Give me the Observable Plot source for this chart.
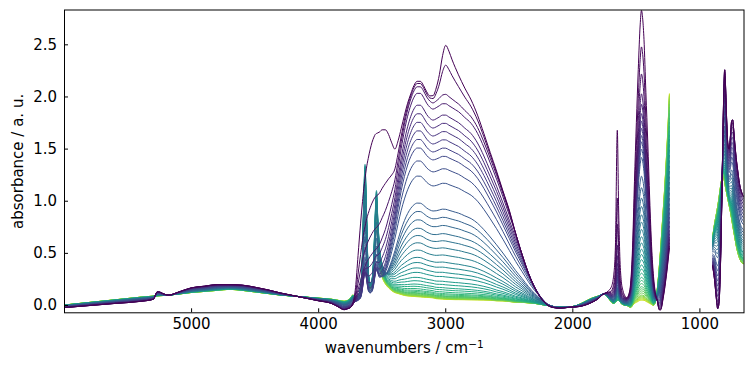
<!DOCTYPE html>
<html>
<head>
<meta charset="utf-8">
<script src="https://cdn.jsdelivr.net/npm/d3@7"></script>
<script src="https://cdn.jsdelivr.net/npm/@observablehq/plot@0.6"></script>
<style>
  html, body { margin: 0; padding: 0; background: #fff; }
  #chart { width: 752px; height: 368px; }
</style>
</head>
<body>
<div id="chart"></div>
<script>
// ---------- data ----------
// wavenumber grid of the main segment with the baseline of the late (green) spectra
const baseline = [[6000,0.005],[5800,0.03],[5600,0.055],[5400,0.08],[5300,0.09],[5270,0.092],[5250,0.094],[5220,0.096],[5180,0.1],[5100,0.11],[5000,0.125],[4900,0.135],[4800,0.145],[4700,0.155],[4600,0.145],[4500,0.13],[4400,0.115],[4300,0.1],[4200,0.09],[4100,0.08],[4000,0.07],[3900,0.06],[3850,0.05],[3800,0.04],[3770,0.05],[3750,0.07],[3730,0.1],[3710,0.07],[3690,0.06],[3670,0.05],[3655,0.05],[3645,0.05],[3635,0.05],[3625,0.05],[3610,0.05],[3595,0.05],[3580,0.05],[3565,0.05],[3555,0.05],[3545,0.05],[3535,0.05],[3520,0.05],[3500,0.05],[3475,0.05],[3450,0.05],[3425,0.05],[3400,0.05],[3375,0.05],[3350,0.05],[3325,0.05],[3300,0.05],[3275,0.05],[3250,0.05],[3225,0.05],[3200,0.05],[3175,0.05],[3150,0.05],[3125,0.05],[3100,0.05],[3075,0.045],[3050,0.045],[3025,0.045],[3000,0.045],[2975,0.045],[2950,0.045],[2925,0.045],[2900,0.045],[2850,0.045],[2800,0.045],[2750,0.045],[2700,0.045],[2650,0.045],[2600,0.04],[2550,0.04],[2500,0.035],[2450,0.03],[2400,0.03],[2350,0.025],[2300,0.02],[2250,0.01],[2200,0],[2150,-0.01],[2100,-0.015],[2050,-0.015],[2000,-0.01],[1950,0.01],[1900,0.04],[1850,0.07],[1800,0.09],[1760,0.11],[1740,0.1],[1720,0.07],[1700,0.04],[1680,0.02],[1665,0.03],[1650,0.05],[1640,0.05],[1630,0.04],[1620,0.02],[1605,0.01],[1590,0],[1575,0],[1560,-0.01],[1545,-0.02],[1530,0],[1515,0.02],[1500,0.03],[1485,0.04],[1470,0.05],[1460,0.05],[1450,0.05],[1440,0.05],[1425,0.04],[1410,0.03],[1395,0.02],[1380,0.01],[1365,0],[1350,0],[1335,0],[1320,0],[1310,0],[1300,0],[1290,0],[1280,0],[1270,0],[1260,0],[1250,0],[1240,0]];

// extra baseline of the early (purple) spectra
const purpleBase = [[6000,-0.025],[5800,-0.03],[5600,-0.035],[5400,-0.04],[5300,-0.03],[5270,0.04],[5250,0.035],[5220,0.015],[5180,0],[5100,0.02],[5000,0.045],[4900,0.05],[4800,0.055],[4700,0.045],[4600,0.05],[4500,0.045],[4400,0.035],[4300,0.02],[4200,0.005],[4100,-0.01],[4000,-0.025],[3900,-0.04],[3850,-0.06],[3800,-0.08],[3770,-0.08],[3750,-0.09],[3730,-0.1],[3710,-0.05],[3690,-0.03],[3670,-0.02],[2400,-0.01],[2350,-0.015],[2300,-0.02],[2250,-0.02],[2200,-0.02],[2150,-0.015],[2100,-0.01],[2050,-0.005],[2000,-0.005],[1950,-0.02],[1900,-0.035],[1850,-0.04],[1800,-0.025],[1760,0],[1740,0.02],[1720,0.04],[1700,0.05],[1680,0.06],[1665,0.05],[1650,0.03],[1640,0.03],[1630,0.03],[1620,0.04],[1605,0.05],[1590,0.06],[1575,0.06],[1560,0.06],[1545,0.04],[1530,0],[1335,-0.03],[1320,-0.15],[1310,-0.2],[1300,-0.22],[1290,-0.2],[1280,-0.18],[1270,-0.15],[1260,-0.12],[1250,-0.08],[1240,-0.05]];

// broad O-H band profile (1 at 3000 cm-1)
const ohBand = [[3710,0],[3690,0],[3670,0.005],[3655,0.008],[3645,0.01],[3635,0.012],[3625,0.015],[3610,0.02],[3595,0.025],[3580,0.03],[3565,0.04],[3555,0.045],[3545,0.05],[3535,0.06],[3520,0.08],[3500,0.12],[3475,0.18],[3450,0.27],[3425,0.38],[3400,0.5],[3375,0.63],[3350,0.75],[3325,0.85],[3300,0.93],[3275,0.99],[3250,1.03],[3225,1.05],[3200,1.05],[3175,1.03],[3150,1.0],[3125,0.98],[3100,0.97],[3075,0.98],[3050,0.99],[3025,1.0],[3000,1.0],[2975,0.99],[2950,0.98],[2925,0.97],[2900,0.96],[2850,0.93],[2800,0.9],[2750,0.85],[2700,0.78],[2650,0.7],[2600,0.62],[2550,0.53],[2500,0.44],[2450,0.35],[2400,0.27],[2350,0.19],[2300,0.12],[2250,0.07],[2200,0.03],[2150,0.01],[2100,0]];
// low-wavenumber flank shared by the strongest spectra
const ohEdge = [[2975,2.46],[2950,2.4],[2925,2.33],[2900,2.25],[2850,2.1],[2800,1.98],[2750,1.88],[2700,1.74],[2650,1.55],[2600,1.33],[2550,1.1],[2500,0.88],[2450,0.66],[2400,0.47],[2350,0.3],[2300,0.17],[2250,0.08],[2200,0.025],[2150,0.005],[2100,0.001]];
// extra C-H peak near 2980 cm-1 of the first spectra
const band2980 = [[3150,0],[3125,0],[3100,0.05],[3075,0.18],[3050,0.42],[3025,0.78],[3000,1.0],[2975,0.92],[2950,0.78],[2925,0.66],[2900,0.55],[2850,0.4],[2800,0.28],[2750,0.18],[2700,0.1],[2650,0.05],[2600,0.02],[2550,0]];
// high-frequency O-H shoulder of the first spectra
const band3550 = [[3770,0],[3750,0],[3730,0.02],[3710,0.1],[3690,0.3],[3670,0.5],[3655,0.62],[3645,0.7],[3635,0.76],[3625,0.82],[3610,0.88],[3595,0.93],[3580,0.97],[3565,0.99],[3555,1.0],[3545,1.0],[3535,0.99],[3520,0.97],[3500,0.93],[3475,0.85],[3450,0.7],[3425,0.5],[3400,0.3],[3375,0.18],[3350,0.1],[3325,0.05],[3300,0.02],[3275,0]];
// sharp free O-H peaks (3635 / 3545 cm-1)
const sharpOH = [[3750,0],[3730,0],[3710,0.01],[3690,0.03],[3670,0.1],[3655,0.35],[3645,0.75],[3635,1.0],[3625,0.7],[3610,0.22],[3595,0.12],[3580,0.15],[3565,0.35],[3555,0.62],[3545,0.8],[3535,0.6],[3520,0.36],[3500,0.24],[3475,0.17],[3450,0.13],[3425,0.1],[3400,0.08],[3375,0.07],[3350,0.06],[3325,0.05],[3300,0.045],[3275,0.042],[3250,0.04],[3225,0.037],[3200,0.035],[3175,0.032],[3150,0.03],[3125,0.028],[3100,0.025],[3075,0.022],[3050,0.02],[3025,0.018],[3000,0.015],[2975,0.014],[2950,0.013],[2925,0.012],[2900,0.012],[2850,0.011],[2800,0.01],[2750,0.009],[2700,0.008],[2650,0.006],[2600,0.005],[2550,0.004],[2500,0.003],[2450,0.001],[2400,0]];
const band1650 = [[1740,0],[1720,0.02],[1700,0.05],[1680,0.12],[1665,0.3],[1650,1.0],[1640,0.55],[1630,0.25],[1620,0.12],[1605,0.05],[1590,0.02],[1575,0.01],[1560,0]];
const band1460 = [[1590,0],[1575,0],[1560,0.02],[1545,0.07],[1530,0.2],[1515,0.42],[1500,0.62],[1485,0.8],[1470,0.95],[1460,1.0],[1450,0.97],[1440,0.9],[1425,0.72],[1410,0.55],[1395,0.36],[1380,0.2],[1365,0.1],[1350,0.04],[1335,0.01],[1320,0]];
const band1250 = [[1380,0],[1365,0],[1350,0.02],[1335,0.08],[1320,0.18],[1310,0.26],[1300,0.35],[1290,0.44],[1280,0.53],[1270,0.63],[1260,0.74],[1250,0.86],[1240,1.0]];

// low-wavenumber segment: first (purple) and last (green) spectrum
const lowFirst = [[900,0.38],[885,0.25],[870,0.06],[860,-0.03],[850,0.02],[840,0.3],[830,0.85],[820,1.55],[812,2.05],[805,2.26],[798,2.1],[790,1.8],[780,1.55],[770,1.5],[760,1.62],[750,1.77],[742,1.78],[735,1.7],[725,1.55],[715,1.42],[700,1.27],[690,1.18],[680,1.12],[670,1.08],[653,1.04]];
const lowLast = [[900,0.65],[885,0.78],[870,0.88],[860,0.95],[850,1.03],[840,1.12],[830,1.2],[820,1.24],[812,1.22],[805,1.18],[798,1.13],[790,1.08],[780,1.02],[770,0.96],[760,0.9],[750,0.83],[742,0.77],[735,0.72],[725,0.65],[715,0.58],[700,0.5],[690,0.46],[680,0.43],[670,0.41],[653,0.4]];

// per-spectrum amplitudes (spectrum 0 = first, darkest)
const ohLevel = [2.0,1.98,1.95,1.89,1.78,1.70,1.62,1.54,1.46,1.38,1.26,1.12,0.87,0.79,0.71,0.63,0.56,0.49,0.42,0.35,0.30,0.25,0.21,0.165,0.135,0.105,0.085,0.065,0.05,0.04,0.03,0.025,0.02,0.015,0.01,0.008,0.006,0.004,0.002,0];
const amp2980 = [0.45,0.28,0.03,0,0,0,0,0,0,0,0,0,0,0,0,0,0,0,0,0,0,0,0,0,0,0,0,0,0,0,0,0,0,0,0,0,0,0,0,0];
const amp3550 = [1.5,0.9,0.6,0.4,0.3,0.2,0.12,0.06,0.03,0,0,0,0,0,0,0,0,0,0,0,0,0,0,0,0,0,0,0,0,0,0,0,0,0,0,0,0,0,0,0];
const ampSharp = [0,0,0,0,0.05,0.1,0.15,0.2,0.25,0.3,0.35,0.4,0.5,0.6,0.7,0.8,0.9,1.0,1.1,1.2,1.28,1.3,1.27,1.25,1.22,1.2,1.18,1.16,1.14,1.12,1.1,1.08,1.06,1.04,1.02,1.0,0.98,0.96,0.94,0.92];
const amp1650 = [1.6,0.95,0.7,0.5,0.4,0.33,0.28,0.25,0.22,0.2,0.18,0.16,0.13,0.11,0.1,0.09,0.08,0.07,0.06,0.05,0.04,0.035,0.03,0.025,0.02,0.015,0.01,0.005,0,0,0,0,0,0,0,0,0,0,0,0];
const amp1460 = [2.78,2.43,2.17,1.98,1.88,1.79,1.72,1.65,1.58,1.52,1.45,1.37,1.19,1.08,0.98,0.90,0.82,0.75,0.68,0.61,0.55,0.49,0.44,0.39,0.34,0.30,0.26,0.22,0.19,0.16,0.13,0.11,0.09,0.07,0.05,0.04,0.03,0.02,0.01,0.0];
const amp1250 = [0.6,0.62,0.65,0.68,0.7,0.73,0.76,0.8,0.84,0.88,0.92,0.96,1.0,1.05,1.1,1.15,1.2,1.25,1.3,1.35,1.4,1.45,1.5,1.55,1.6,1.64,1.68,1.72,1.76,1.8,1.84,1.87,1.9,1.93,1.96,1.98,2.0,2.01,2.02,2.03];
const purpleShare = [1,1,1,0.97,0.93,0.88,0.83,0.78,0.73,0.68,0.63,0.58,0.5,0.46,0.42,0.38,0.34,0.31,0.28,0.25,0.22,0.19,0.17,0.15,0.13,0.11,0.09,0.08,0.07,0.06,0.05,0.04,0.03,0.02,0.01,0,0,0,0,0];

const xTicks = [5000, 4000, 3000, 2000, 1000];
const yTicks = [0, 0.5, 1, 1.5, 2, 2.5];

// ---------- build table ----------
const gridA = baseline.map(d => d[0]);
const gridB = lowFirst.map(d => d[0]);
function lookup(pairs, name, strict = true) {
  const m = new Map(pairs);
  for (const k of m.keys()) if (!gridA.includes(k)) throw new Error(name + " key not in grid: " + k);
  if (strict) {
    const ks = pairs.map(d => d[0]);
    const lo = Math.min(...ks), hi = Math.max(...ks);
    for (const w of gridA) if (w >= lo && w <= hi && !m.has(w)) throw new Error(name + " missing " + w);
  }
  return w => (m.has(w) ? m.get(w) : 0);
}
const fBase = lookup(baseline, "baseline");
const fPurple = lookup(purpleBase, "purpleBase", false);
const fOH = lookup(ohBand, "ohBand");
const fEdgeMap = new Map(ohEdge);
const f2980 = lookup(band2980, "band2980");
const f3550 = lookup(band3550, "band3550");
const fSharp = lookup(sharpOH, "sharpOH");
const f1650 = lookup(band1650, "band1650");
const f1460 = lookup(band1460, "band1460");
const f1250 = lookup(band1250, "band1250");
const lowF = new Map(lowFirst), lowL = new Map(lowLast);

const N = ohLevel.length;
for (const [n, a] of Object.entries({amp2980, amp3550, ampSharp, amp1650, amp1460, amp1250, purpleShare}))
  if (a.length !== N) throw new Error(n + " length " + a.length);

// later spectra first, so the early (purple) ones are drawn on top
const rows = [];
for (let i = N - 1; i >= 0; i--) {
  for (const wn of gridA) {
    let oh = ohLevel[i] * fOH(wn) + amp2980[i] * f2980(wn);
    if (fEdgeMap.has(wn)) oh = Math.min(oh, fEdgeMap.get(wn));
    const a = fBase(wn) + purpleShare[i] * fPurple(wn) + oh + amp3550[i] * f3550(wn)
      + ampSharp[i] * fSharp(wn) + amp1650[i] * f1650(wn) + amp1460[i] * f1460(wn) + amp1250[i] * f1250(wn);
    rows.push({spectrum: i, key: i + "A", wn, a});
  }
  for (const wn of gridB) {
    const a = purpleShare[i] * lowF.get(wn) + (1 - purpleShare[i]) * lowL.get(wn);
    rows.push({spectrum: i, key: i + "B", wn, a});
  }
}

const xLabel = "wavenumbers / cm⁻¹";
const chart = Plot.plot({
  width: 752,
  height: 368,
  marginLeft: 64,
  marginRight: 8.5,
  marginTop: 9.5,
  marginBottom: 55.7,
  style: {fontFamily: "DejaVu Sans", fontSize: "15px", color: "black", background: "white"},
  x: {domain: [6000, 653]},
  y: {domain: [-0.07, 2.834]},
  color: {type: "sequential", scheme: "viridis", domain: [0, (N - 1) / 0.92]},
  marks: [
    Plot.line(rows, {x: "wn", y: "a", z: "key", stroke: "spectrum", strokeWidth: 1, curve: "monotone-x", clip: true}),
    Plot.frame({stroke: "black", strokeWidth: 1}),
    Plot.axisX({ticks: xTicks, tickFormat: d3.format("d"), tickSize: -4, tickPadding: 10,
      label: xLabel, labelAnchor: "center", labelOffset: 40, labelArrow: false}),
    Plot.axisY({ticks: yTicks, tickFormat: d3.format(".1f"), tickSize: -4, tickPadding: 11.5,
      label: "absorbance / a. u.", labelAnchor: "center", labelOffset: 52, labelArrow: false})
  ]
});
// render the unit's exponent as a real superscript
for (const t of chart.querySelectorAll("text")) {
  if (t.textContent === xLabel && t.children.length <= 1) {
    const host = t.querySelector("tspan") || t;
    host.textContent = "wavenumbers / cm";
    const sup = document.createElementNS("http://www.w3.org/2000/svg", "tspan");
    sup.setAttribute("dy", "-0.45em");
    sup.setAttribute("font-size", "10.5px");
    sup.textContent = "−1";
    host.appendChild(sup);
  }
}
document.getElementById("chart").appendChild(chart);
</script>
</body>
</html>
